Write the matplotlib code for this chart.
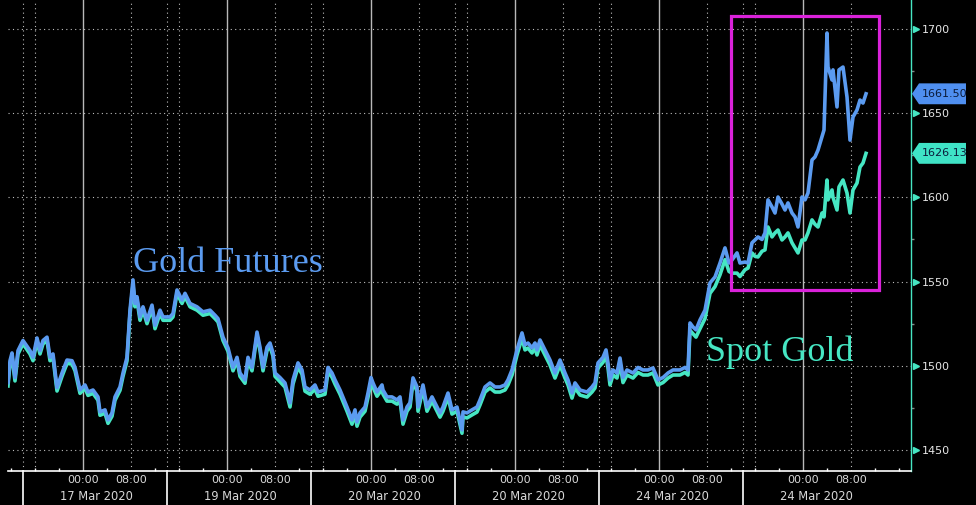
import numpy as np
import matplotlib
matplotlib.use("Agg")
import matplotlib.pyplot as plt
import matplotlib.patches as patches

# time axis: minutes on Bloomberg's compressed session scale, from first print
t = [0, 20, 40, 70, 100, 150, 220, 250, 290, 320, 350, 390, 420, 450, 490, 540, 590, 640, 670, 720,
     770, 800, 850, 900, 920, 970, 1000, 1040, 1070, 1120, 1150, 1190, 1220, 1250, 1270, 1290, 1320,
     1350, 1390, 1440, 1470, 1520, 1550, 1620, 1650, 1690, 1740, 1770, 1820, 1890, 1950, 2020, 2070,
     2100, 2150, 2200, 2250, 2290, 2320, 2370, 2400, 2440, 2490, 2520, 2550, 2590, 2620, 2650, 2670,
     2720, 2770, 2820, 2850, 2900, 2940, 2970, 3020, 3070, 3100, 3170, 3200, 3240, 3270, 3320, 3390,
     3440, 3470, 3490, 3520, 3570, 3600, 3630, 3650, 3690, 3740, 3750, 3790, 3840, 3890, 3920, 3950,
     3990, 4020, 4050, 4090, 4100, 4150, 4190, 4240, 4290, 4320, 4350, 4400, 4440, 4490, 4540, 4550,
     4590, 4640, 4690, 4720, 4770, 4820, 4870, 4920, 4970, 5000, 5040, 5090, 5140, 5170, 5200, 5240,
     5270, 5290, 5320, 5370, 5420, 5470, 5520, 5570, 5600, 5640, 5670, 5720, 5790, 5840, 5870, 5900,
     5950, 5980, 6000, 6020, 6050, 6090, 6120, 6150, 6190, 6250, 6300, 6350, 6400, 6450, 6500, 6550,
     6600, 6650, 6720, 6770, 6800, 6820, 6850, 6880, 6920, 6970, 7020, 7070, 7120, 7170, 7210, 7240,
     7290, 7320, 7370, 7400, 7440, 7470, 7500, 7540, 7570, 7600, 7640, 7670, 7700, 7740, 7770, 7800,
     7840, 7870, 7900, 7940, 7970, 8000, 8040, 8070, 8100, 8140, 8160, 8190, 8200, 8240, 8250, 8290,
     8310, 8350, 8390, 8420, 8450, 8490, 8520, 8550, 8580]

futures = [1490, 1503, 1507.6, 1493, 1509, 1515, 1509, 1505, 1516.5, 1509, 1515, 1517, 1505, 1507,
           1487, 1495.7, 1503.4, 1503, 1499, 1485.6, 1488.6, 1484.4, 1485.6, 1481.5, 1472.6, 1473.8,
           1467.8, 1472, 1481.5, 1487.4, 1495.7, 1505, 1533, 1551, 1537, 1541, 1529, 1535, 1527, 1536,
           1524, 1533, 1529, 1529, 1531, 1545, 1539, 1543, 1537, 1535, 1532, 1533, 1530, 1528, 1517,
           1510.6, 1499, 1505, 1495.7, 1491.6, 1505, 1499, 1520, 1511, 1499, 1511, 1513.5, 1507.6,
           1495.7, 1493, 1489.8, 1478, 1491.6, 1501.7, 1497.5, 1487.4, 1485.6, 1488.6, 1484.4, 1485.6,
           1499, 1495.7, 1491.6, 1485.6, 1475.5, 1467.8, 1473.8, 1466.6, 1472, 1475.5, 1483.8, 1493,
           1489.8, 1484.4, 1488.6, 1485.6, 1481.5, 1481.5, 1479.7, 1481.5, 1467.8, 1475.5, 1478, 1492.8,
           1487.4, 1475.5, 1488.6, 1475.5, 1481.5, 1475.5, 1472, 1475.5, 1483.8, 1473.8, 1475.5, 1461.9,
           1472.6, 1472, 1473.8, 1475.5, 1479.7, 1487.4, 1489.8, 1487.4, 1487.4, 1488.6, 1491.6, 1497.5,
           1509.4, 1519.5, 1512.4, 1513.5, 1510.6, 1513.5, 1509.4, 1515.3, 1509.4, 1503.4, 1495.7,
           1503.4, 1495.7, 1491.6, 1483.8, 1489.8, 1485.6, 1484.4, 1487.4, 1489.8, 1501.7, 1505, 1509.4,
           1501.7, 1491.6, 1497.5, 1495.7, 1504.6, 1493, 1497.5, 1495.7, 1499, 1497.5, 1497.5, 1498.7,
           1491.6, 1493, 1495.7, 1497.5, 1497.5, 1499, 1497.5, 1525.4, 1523, 1521.3, 1527.2, 1533,
           1549.2, 1552.7, 1561, 1570, 1561, 1562.8, 1567, 1561, 1561.6, 1561, 1573, 1574.7, 1576.5,
           1575, 1578.9, 1598.5, 1594.3, 1590.7, 1600.2, 1596, 1592.5, 1596.7, 1590.7, 1588.4, 1582.4,
           1600.2, 1598.5, 1602.6, 1622.2, 1624, 1628.1, 1635.9, 1640, 1697.6, 1677.4, 1669.7, 1675.7,
           1653.7, 1675.7, 1677.4, 1659.6, 1634, 1647.7, 1651.9, 1657.8, 1656, 1661.5]

spot = [1488, 1501, 1505.6, 1491, 1507, 1513, 1507, 1503, 1514.5, 1507, 1513, 1515, 1503, 1505, 1485,
        1493.7, 1501.4, 1501, 1497, 1483.6, 1486.6, 1482.4, 1483.6, 1479.5, 1470.6, 1471.8, 1465.8,
        1470, 1479.5, 1485.4, 1493.7, 1503, 1531, 1548, 1535, 1539, 1527, 1533, 1525, 1534, 1522, 1531,
        1527, 1527, 1529, 1543, 1537, 1541, 1535, 1533, 1530, 1531, 1528, 1526, 1515, 1508.6, 1497,
        1503, 1493.7, 1489.6, 1503, 1497, 1518, 1509, 1497, 1509, 1511.5, 1505.6, 1493.7, 1490.5,
        1487.3, 1475.5, 1489.1, 1499.2, 1495, 1484.9, 1483.1, 1486.1, 1481.9, 1483.1, 1496.5, 1493.2,
        1489.1, 1483.1, 1473, 1465.3, 1471.3, 1464.1, 1469.5, 1473, 1481.3, 1490.5, 1487.3, 1481.9,
        1486.1, 1483.1, 1479, 1479, 1477.2, 1479, 1465.3, 1473, 1475.5, 1490.3, 1484.9, 1473, 1486.1,
        1473, 1479, 1473, 1469.5, 1473, 1481.3, 1471.3, 1473, 1459.9, 1469.6, 1469, 1470.8, 1472.5,
        1476.7, 1484.4, 1486.8, 1484.4, 1484.4, 1485.6, 1488.6, 1494.5, 1506.4, 1516.5, 1509.4, 1510.5,
        1507.6, 1510.5, 1506.4, 1512.3, 1506.4, 1500.4, 1492.7, 1500.4, 1492.7, 1488.6, 1480.8, 1486.8,
        1482.6, 1481.4, 1484.4, 1486.8, 1498.7, 1502, 1506.4, 1498.7, 1488.6, 1494.5, 1492.7, 1501.6,
        1490, 1494.5, 1492.7, 1496, 1494.5, 1494.5, 1495.7, 1488.6, 1490, 1492.7, 1494.5, 1494.5, 1496,
        1494.5, 1521, 1519, 1517, 1522, 1528, 1543, 1547, 1554, 1563, 1556, 1555, 1555, 1553, 1557,
        1558, 1567, 1565, 1564.6, 1568, 1568.8, 1582.4, 1576.5, 1578.9, 1580.6, 1574.7, 1576.5, 1578.9,
        1573, 1570, 1567, 1574.7, 1574.7, 1578.9, 1586.6, 1584, 1582.4, 1590.7, 1588.4, 1610.3, 1598.5,
        1604.4, 1600, 1592.5, 1606.2, 1610.3, 1602.6, 1590.7, 1604.4, 1608.5, 1618, 1620.4, 1626.13]

day_labels = ["17 Mar 2020", "19 Mar 2020", "20 Mar 2020", "20 Mar 2020", "24 Mar 2020", "24 Mar 2020"]
y_ticks = [1450, 1500, 1550, 1600, 1650, 1700]

# session layout (minutes): session break, 16:00, 00:00, 08:00 within each 1440-min block
SESSION = 1440
BREAK0, H16, H00, H08 = 150, 270, 750, 1230

BLUE = "#5B9BF0"
TEAL = "#46E6C3"
BG = "#000000"

fig = plt.figure(figsize=(9.76, 5.05), dpi=100, facecolor=BG)
ax = fig.add_axes([8 / 976, 34 / 505, 903 / 976, 471 / 505], facecolor=BG)

ax.set_xlim(0, 9030)
ax.set_ylim(1437.5, 1717.2)

# grid
dot = (0, (1, 3))
for yv in y_ticks:
    ax.axhline(yv, color="#bdbdbd", lw=0.8, ls=dot, zorder=1)
for k in range(len(day_labels)):
    base = k * SESSION
    for xv in (base + BREAK0, base + H16, base + H08):
        ax.axvline(xv, color="#bdbdbd", lw=0.8, ls=dot, zorder=1)
    ax.axvline(base + H00, color="#b8b8b8", lw=1.0, zorder=1)
    # session separators below the axis
    ax.plot([base + BREAK0] * 2, [0, -34 / 471], transform=ax.get_xaxis_transform(),
            color="white", lw=1.2, clip_on=False)
    ax.text(base + H00 + 130, -26 / 471, day_labels[k], transform=ax.get_xaxis_transform(),
            ha="center", va="center", color="#d8d8d8", fontsize=8.3)

# series
ax.plot(t, spot, color=TEAL, lw=2.6, zorder=3, solid_joinstyle="round")
ax.plot(t, futures, color=BLUE, lw=2.6, zorder=4, solid_joinstyle="round")

# x ticks
major = []
labels = []
for k in range(len(day_labels)):
    major += [k * SESSION + H00, k * SESSION + H08]
    labels += ["00:00", "08:00"]
ax.set_xticks(major)
ax.set_xticklabels(labels)
ax.set_xticks(np.arange(30, 9030, 240), minor=True)
ax.tick_params(axis="x", which="major", length=0, pad=3, labelsize=8, labelcolor="#d8d8d8")
ax.tick_params(axis="x", which="minor", direction="in", length=2.5, color="white", width=1)

# y axis on the right
ax.yaxis.tick_right()
ax.set_yticks(y_ticks)
ax.set_yticks(np.arange(1475, 1700, 50), minor=True)
ax.tick_params(axis="y", which="major", length=0, pad=7.5, labelsize=8, labelcolor="#e6e6e6")
ax.tick_params(axis="y", which="minor", length=2.5, color="#888888", width=1)
ax.plot([1.005] * len(y_ticks), y_ticks, transform=ax.get_yaxis_transform(), ls="none",
        marker=">", ms=4.5, color=TEAL, clip_on=False)

for side in ("left", "top"):
    ax.spines[side].set_visible(False)
ax.spines["right"].set_color(TEAL)
ax.spines["right"].set_linewidth(1.0)
ax.spines["bottom"].set_color("white")
ax.spines["bottom"].set_linewidth(1.2)

# last-value tags
def value_tag(val, color):
    h = 6.2
    pts = [(1.0011, val), (1.0089, val + h), (1.0609, val + h), (1.0609, val - h), (1.0089, val - h)]
    poly = patches.Polygon(pts, closed=True, transform=ax.get_yaxis_transform(),
                           facecolor=color, edgecolor="none", clip_on=False, zorder=6)
    ax.add_patch(poly)
    ax.text(1.0115, val, f"{val:.2f}", transform=ax.get_yaxis_transform(), ha="left", va="center",
            fontsize=8, color="#0b1b3a", zorder=7)

value_tag(futures[-1], "#4F8FF0")
value_tag(spot[-1], "#3FE3C6")

# highlight box
rect = patches.Rectangle((7230, 1545), 1480, 162.7, fill=False, edgecolor="#DA22DA", lw=2.3, zorder=5)
ax.add_patch(rect)

# series labels
ax.text(2200, 1555.7, "Gold Futures", family="Liberation Serif", fontsize=26, color=BLUE,
        ha="center", va="baseline", zorder=6)
ax.text(7720, 1502.8, "Spot Gold", family="Liberation Serif", fontsize=26, color=TEAL,
        ha="center", va="baseline", zorder=6)

fig.savefig("out.png", dpi=100, facecolor=BG)
